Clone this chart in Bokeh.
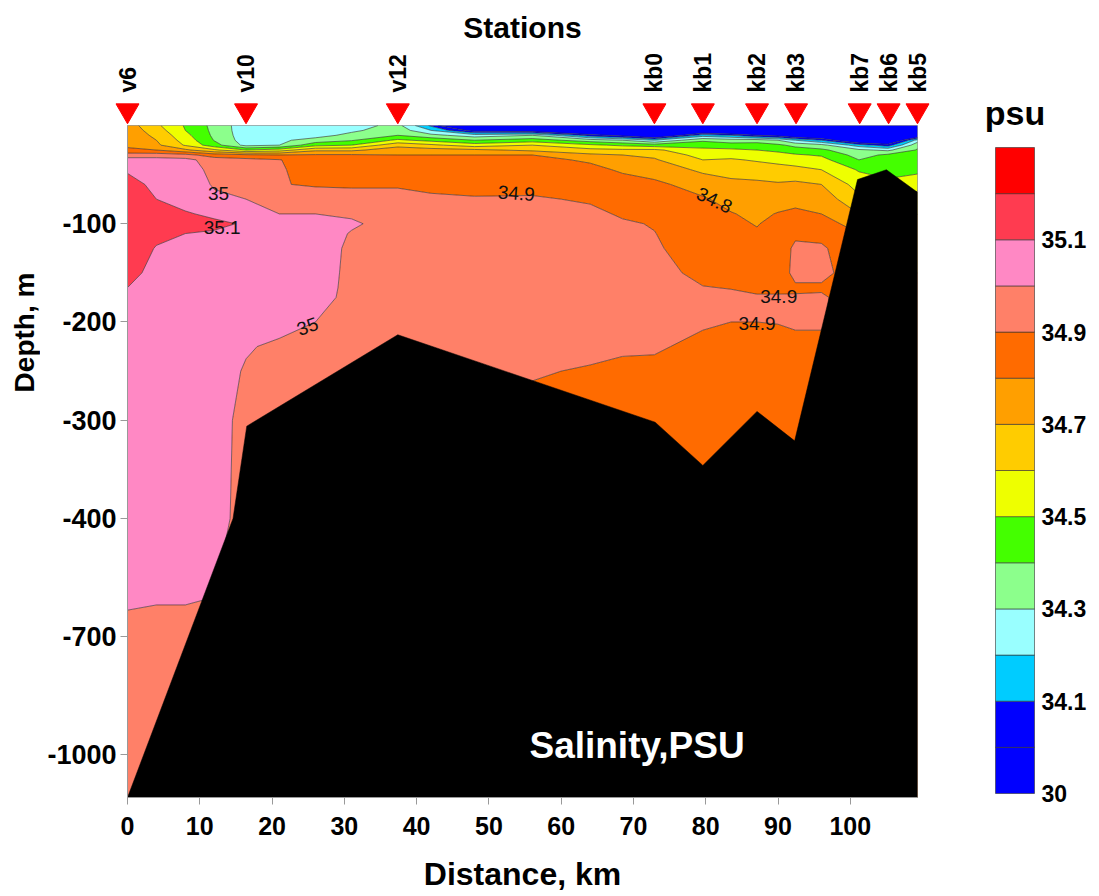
import math
from bokeh.plotting import figure
from bokeh.layouts import row, column
from bokeh.models import Range1d, FixedTicker
from bokeh.core.properties import value
from bokeh.embed import file_html
from bokeh.resources import INLINE

FONT = "Liberation Sans"

# ---------------- data ----------------
station_names = ["v6", "v10", "v12", "kb0", "kb1", "kb2", "kb3", "kb7", "kb6", "kb5"]
station_km = [0.0, 16.4, 37.4, 72.9, 79.6, 87.1, 92.5, 101.3, 105.3, 109.3]

bottom_km = [0.0, 14.6, 16.5, 37.4, 73.0, 79.6, 87.1, 92.3, 101.0, 105.0, 109.3]
bottom_depth = [1110, 400, 306, 213, 302, 346, 291, 321, 55, 45, 68]

depth_rows = [0, 5, 10, 15, 20, 25, 30, 35, 45, 60, 75, 90, 100, 110, 125, 150,
              165, 175, 200, 225, 250, 300, 400, 500, 600, 700, 900, 1110]
col_km = [0.0, 4.0, 8.0, 12.0, 16.4, 21.0, 26.0, 31.0, 37.4, 42.0, 48.0, 56.0,
          64.0, 68.5, 72.9, 79.6, 83.5, 87.1, 90.0, 92.4, 96.0, 101.2, 105.2, 109.3]

s00 = [34.75, 34.76, 34.76, 34.77, 34.78, 34.82, 34.95, 35.04, 35.09, 35.13, 35.15, 35.16, 35.17, 35.16,
       35.15, 35.12, 35.10, 35.09, 35.08, 35.07, 35.07, 35.06, 35.05, 35.03, 35.01, 34.98, 34.96, 34.95]
s04 = [34.62, 34.65, 34.68, 34.70, 34.72, 34.80, 34.95, 35.04, 35.06, 35.08, 35.10, 35.13, 35.14, 35.12,
       35.095, 35.08, 35.075, 35.07, 35.06, 35.055, 35.05, 35.045, 35.04, 35.02, 35.005, 34.98, 34.96, 34.95]
s08 = [34.49, 34.50, 34.53, 34.56, 34.59, 34.72, 34.93, 35.03, 35.05, 35.06, 35.08, 35.105, 35.12, 35.10,
       35.08, 35.07, 35.065, 35.06, 35.05, 35.05, 35.045, 35.04, 35.03, 35.02, 35.005, 34.98, 34.96, 34.95]
s12 = [34.37, 34.375, 34.38, 34.395, 34.44, 34.62, 34.85, 34.95, 34.97, 34.99, 35.02, 35.09, 35.11, 35.095,
       35.07, 35.05, 35.045, 35.04, 35.035, 35.03, 35.025, 35.02, 35.02, 35.01, 35.0, 34.98, 34.96, 34.95]
s16 = [34.24, 34.24, 34.245, 34.25, 34.27, 34.5, 34.82, 34.93, 34.96, 34.98, 35.0, 35.06, 35.095, 35.07,
       35.05, 35.035, 35.03, 35.025, 35.015, 35.005, 34.995, 34.985, 34.98, 34.97, 34.96, 34.96, 34.95, 34.95]
s21 = [34.25, 34.25, 34.26, 34.28, 34.30, 34.55, 34.8, 34.905, 34.91, 34.905, 34.95, 35.0, 35.03, 35.05,
       35.05, 35.05, 35.045, 35.04, 35.02, 34.99, 34.98, 34.97, 34.96, 34.96, 34.95, 34.95, 34.95, 34.95]
s26 = [34.24, 34.25, 34.26, 34.34, 34.47, 34.68, 34.81, 34.83, 34.86, 34.89, 34.95, 35.0, 35.03, 35.04,
       35.04, 35.03, 35.025, 35.02, 35.0, 34.98, 34.97, 34.96, 34.95, 34.95, 34.95, 34.95, 34.95, 34.95]
s31 = [34.26, 34.28, 34.33, 34.39, 34.5, 34.68, 34.81, 34.83, 34.86, 34.89, 34.93, 34.99, 35.01, 34.995,
       34.985, 34.985, 34.985, 34.985, 34.975, 34.97, 34.965, 34.96, 34.95, 34.95, 34.95, 34.95, 34.95, 34.95]
s37 = [34.33, 34.36, 34.40, 34.52, 34.67, 34.75, 34.80, 34.82, 34.85, 34.89, 34.93, 34.95, 34.97, 34.96,
       34.96, 34.96, 34.96, 34.96, 34.95, 34.95, 34.94, 34.94, 34.94, 34.94, 34.94, 34.94, 34.94, 34.94]
s42 = [34.08, 34.2, 34.33, 34.47, 34.62, 34.74, 34.8, 34.82, 34.85, 34.885, 34.91, 34.93, 34.94, 34.95,
       34.95, 34.95, 34.95, 34.95, 34.95, 34.945, 34.94, 34.94, 34.94, 34.94, 34.94, 34.94, 34.94, 34.94]
s48 = [33.6, 33.95, 34.25, 34.4, 34.55, 34.72, 34.8, 34.82, 34.85, 34.88, 34.905, 34.92, 34.93, 34.94,
       34.94, 34.94, 34.94, 34.94, 34.94, 34.935, 34.93, 34.92, 34.92, 34.92, 34.92, 34.92, 34.92, 34.92]
s56 = [33.5, 33.9, 34.3, 34.45, 34.6, 34.68, 34.8, 34.82, 34.84, 34.87, 34.91, 34.93, 34.935, 34.94,
       34.94, 34.94, 34.935, 34.93, 34.93, 34.92, 34.905, 34.88, 34.87, 34.87, 34.87, 34.87, 34.87, 34.87]
s64 = [33.4, 33.7, 34.05, 34.35, 34.52, 34.63, 34.72, 34.79, 34.82, 34.86, 34.89, 34.92, 34.93, 34.935,
       34.94, 34.94, 34.935, 34.93, 34.93, 34.915, 34.895, 34.88, 34.87, 34.87, 34.87, 34.87, 34.87, 34.87]
s68 = [33.3, 33.6, 33.95, 34.3, 34.48, 34.62, 34.7, 34.73, 34.79, 34.83, 34.86, 34.89, 34.91, 34.92,
       34.925, 34.93, 34.93, 34.93, 34.925, 34.91, 34.885, 34.87, 34.86, 34.86, 34.86, 34.86, 34.86, 34.86]
s73 = [33.2, 33.5, 33.8, 34.2, 34.45, 34.62, 34.68, 34.71, 34.76, 34.82, 34.85, 34.88, 34.895, 34.902,
       34.91, 34.92, 34.92, 34.92, 34.915, 34.905, 34.89, 34.87, 34.86, 34.86, 34.86, 34.86, 34.86, 34.86]
s80 = [33.3, 33.8, 34.15, 34.38, 34.47, 34.52, 34.56, 34.6, 34.68, 34.76, 34.81, 34.83, 34.84, 34.85,
       34.86, 34.885, 34.902, 34.91, 34.905, 34.89, 34.88, 34.87, 34.86, 34.86, 34.86, 34.86, 34.86, 34.86]
s84 = [33.3, 33.7, 34.1, 34.35, 34.44, 34.52, 34.57, 34.61, 34.67, 34.72, 34.77, 34.805, 34.82, 34.84,
       34.85, 34.875, 34.898, 34.91, 34.9, 34.88, 34.87, 34.865, 34.86, 34.86, 34.86, 34.86, 34.86, 34.86]
s87 = [33.3, 33.7, 34.0, 34.35, 34.45, 34.5, 34.55, 34.59, 34.65, 34.72, 34.75, 34.78, 34.795, 34.81,
       34.83, 34.86, 34.89, 34.905, 34.9, 34.88, 34.87, 34.86, 34.86, 34.86, 34.86, 34.86, 34.86, 34.86]
s90 = [33.3, 33.6, 33.95, 34.3, 34.42, 34.48, 34.53, 34.57, 34.64, 34.71, 34.76, 34.805, 34.83, 34.85,
       34.87, 34.88, 34.89, 34.905, 34.902, 34.88, 34.87, 34.86, 34.86, 34.86, 34.86, 34.86, 34.86, 34.86]
s92 = [33.2, 33.5, 33.85, 34.2, 34.37, 34.45, 34.51, 34.55, 34.63, 34.72, 34.77, 34.82, 34.86, 34.89,
       34.91, 34.91, 34.895, 34.903, 34.905, 34.89, 34.875, 34.86, 34.86, 34.86, 34.86, 34.86, 34.86, 34.86]
s96 = [33.2, 33.5, 33.8, 34.1, 34.33, 34.42, 34.49, 34.53, 34.6, 34.7, 34.76, 34.8, 34.85, 34.88,
       34.91, 34.91, 34.895, 34.905, 34.905, 34.89, 34.88, 34.87, 34.87, 34.87, 34.87, 34.87, 34.87, 34.87]
s101 = [33.0, 33.2, 33.5, 33.8, 34.15, 34.32, 34.36, 34.40, 34.49, 34.56, 34.62, 34.7, 34.75, 34.8,
        34.85, 34.88, 34.88, 34.88, 34.87, 34.87, 34.87, 34.87, 34.87, 34.87, 34.87, 34.87, 34.87, 34.87]
s105 = [33.0, 33.2, 33.5, 33.75, 34.05, 34.28, 34.42, 34.44, 34.47, 34.52, 34.56, 34.6, 34.63, 34.66,
        34.7, 34.75, 34.78, 34.8, 34.82, 34.84, 34.85, 34.86, 34.86, 34.86, 34.86, 34.86, 34.86, 34.86]
s109 = [33.2, 33.5, 33.8, 34.25, 34.37, 34.41, 34.43, 34.445, 34.475, 34.56, 34.65, 34.7, 34.73, 34.76,
        34.78, 34.8, 34.82, 34.83, 34.84, 34.85, 34.86, 34.86, 34.86, 34.86, 34.86, 34.86, 34.86, 34.86]

sal_columns = [s00, s04, s08, s12, s16, s21, s26, s31, s37, s42, s48, s56,
               s64, s68, s73, s80, s84, s87, s90, s92, s96, s101, s105, s109]

levels = [30.0, 34.0, 34.1, 34.2, 34.3, 34.4, 34.5, 34.6, 34.7, 34.8, 34.9, 35.0, 35.1, 35.2, 35.3]
palette = ["#0000FF", "#0000FF", "#00CCFF", "#99FFFF", "#8CFF8C", "#44FF00", "#EEFF00",
           "#FFCC00", "#FF9F00", "#FF6B00", "#FF8068", "#FF88C4", "#FF3B50", "#FF0000"]

cbar_tick_pos = [0, 2, 4, 6, 8, 10, 12]
cbar_tick_text = ["30", "34.1", "34.3", "34.5", "34.7", "34.9", "35.1"]

clabel_text = ["35", "35.1", "34.9", "34.8", "34.9", "34.9", "35"]
clabel_km = [12.6, 13.1, 53.8, 81.2, 90.1, 87.1, 24.9]
clabel_depth = [69, 104, 69, 76, 174, 201.5, 204.6]
clabel_angle = [0, 0, -4, -25, 0, 0, 20]

y_tick_depths = [100, 200, 300, 400, 700, 1000]
x_ticks = [0, 10, 20, 30, 40, 50, 60, 70, 80, 90, 100]


# ---------------- depth axis transform (stretched upper 400 m) ----------------
def to_t(d):
    return d if d <= 400 else 400 + (d - 400) * 0.4


X_MAX = 109.3
T_MAX = to_t(bottom_depth[0])

FRAME_W, FRAME_H = 790, 672
STRIP = 40                      # width of the strip holding the depth title
LEFT, RIGHT, BOTTOM, TOP_H = 127 - STRIP, 33, 54, 125
XLAB_H = 45                     # strip holding the distance title
W_MAIN = LEFT + FRAME_W + RIGHT
H_ALL = TOP_H + FRAME_H + BOTTOM + XLAB_H
PXKM = FRAME_W / X_MAX
STRIP_X = Range1d(-LEFT / PXKM, (FRAME_W + RIGHT) / PXKM)


def blank(width, height, x_range, y_range):
    f = figure(width=width, height=height, x_range=x_range, y_range=y_range,
               output_backend="svg", toolbar_location=None, min_border=0, title=None)
    f.frame_align = False
    f.axis.visible = False
    f.grid.visible = False
    f.outline_line_color = None
    return f


# ---------------- main section ----------------
p = figure(width=W_MAIN, height=FRAME_H + BOTTOM, x_range=Range1d(0, X_MAX),
           y_range=Range1d(-T_MAX, 0), output_backend="svg", toolbar_location=None,
           min_border_left=LEFT, min_border_right=RIGHT, min_border_bottom=BOTTOM,
           min_border_top=0, title=None)
p.frame_align = False
p.grid.visible = False
p.outline_line_color = "#999999"
p.outline_line_width = 1

ys = [-to_t(d) for d in reversed(depth_rows)]
Z = [[sal_columns[i][j] for i in range(len(col_km))] for j in reversed(range(len(depth_rows)))]
p.contour(x=col_km, y=ys, z=Z, levels=levels, fill_color=palette,
          line_color="#2a2a2a", line_width=0.6)

bx = bottom_km + [bottom_km[-1]]
by = [-to_t(d) for d in bottom_depth] + [-T_MAX]
p.patch(bx, by, fill_color="black", line_color="black", line_width=0.5)

p.text(x=clabel_km, y=[-to_t(d) for d in clabel_depth], text=clabel_text,
       angle=[math.radians(a) for a in clabel_angle], text_align="center",
       text_baseline="middle", text_font=value(FONT), text_font_size="19px",
       text_color="#111111")

p.text(x=[70.5], y=[-to_t(977)], text=["Salinity,PSU"], text_align="center",
       text_baseline="middle", text_font=value(FONT), text_font_size="37px",
       text_font_style="bold", text_color="white")

for ax in (p.xaxis, p.yaxis):
    ax.axis_line_color = "#999999"
    ax.major_tick_line_color = "#999999"
    ax.minor_tick_line_color = None
    ax.major_tick_in = 0
    ax.major_tick_out = 7
    ax.major_label_text_font = FONT
    ax.major_label_text_font_style = "bold"
    ax.major_label_text_color = "black"

p.xaxis.ticker = FixedTicker(ticks=x_ticks)
p.xaxis.major_label_text_font_size = "25px"
p.xaxis.major_label_standoff = 12

yt = [-to_t(d) for d in y_tick_depths]
p.yaxis.ticker = FixedTicker(ticks=yt)
p.yaxis.major_label_overrides = {t: "-%d" % d for t, d in zip(yt, y_tick_depths)}
p.yaxis.major_label_text_font_size = "27px"
p.yaxis.major_label_standoff = 4

# ---------------- axis titles ----------------
ls = blank(STRIP, H_ALL, Range1d(0, STRIP), Range1d(0, H_ALL))
ls.text(x=[24], y=[H_ALL - 332], text=["Depth, m"], angle=math.pi / 2, text_align="center",
        text_baseline="middle", text_font=value(FONT), text_font_size="28px",
        text_font_style="bold", text_color="black")

bs = blank(W_MAIN, XLAB_H, STRIP_X, Range1d(0, XLAB_H))
bs.text(x=[X_MAX / 2], y=[XLAB_H / 2], text=["Distance, km"], text_align="center",
        text_baseline="middle", text_font=value(FONT), text_font_size="32px",
        text_font_style="bold", text_color="black")

# ---------------- station strip ----------------
top = blank(W_MAIN, TOP_H, STRIP_X, Range1d(0, TOP_H))
n = len(station_km)
top.scatter(station_km, [15] * n, marker="inverted_triangle", size=23,
            fill_color="#FF0000", line_color="#FF0000")
top.text(x=station_km, y=[33] * n, text=station_names, angle=math.pi / 2,
         text_align="left", text_baseline="middle", text_font=value(FONT),
         text_font_size="23px", text_font_style="bold", text_color="black")
top.text(x=[X_MAX / 2], y=[98], text=["Stations"], text_align="center",
         text_baseline="middle", text_font=value(FONT), text_font_size="30px",
         text_font_style="bold", text_color="black")

# ---------------- colour bar ----------------
CB_W = 141
BAND = 646 / 14
CB_BOTTOM_PX = H_ALL - 793
cb = blank(CB_W, H_ALL, Range1d(0, CB_W),
           Range1d(-CB_BOTTOM_PX / BAND, (H_ALL - CB_BOTTOM_PX) / BAND))
nb = len(palette)
cb.quad(left=[45] * nb, right=[84] * nb, bottom=list(range(nb)), top=list(range(1, nb + 1)),
        fill_color=palette, line_color="#333333", line_width=0.6)
cb.text(x=[91] * len(cbar_tick_pos), y=cbar_tick_pos, text=cbar_tick_text,
        text_align="left", text_baseline="middle", text_font=value(FONT),
        text_font_size="23px", text_font_style="bold", text_color="black")
cb.text(x=[64.5], y=[(793 - 112) / BAND], text=["psu"], text_align="center",
        text_baseline="middle", text_font=value(FONT), text_font_size="34px",
        text_font_style="bold", text_color="black")

layout = row(ls, column(top, p, bs), cb)
open("out.html", "w").write(file_html(layout, INLINE))
